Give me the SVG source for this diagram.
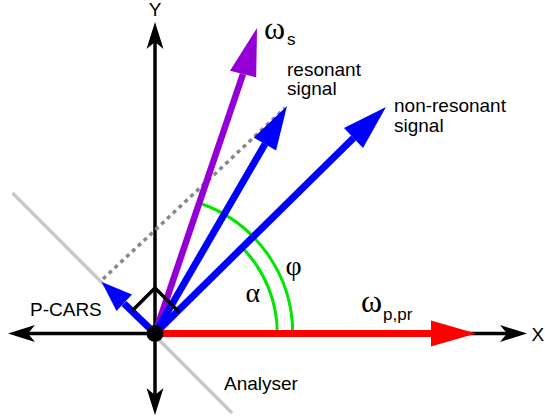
<svg xmlns="http://www.w3.org/2000/svg" width="545" height="418" viewBox="0 0 545 418">
<style>
.ax{stroke:#000;stroke-width:3.5;fill:none}
.ah{fill:#000;stroke:none}
.lbl{font-family:"Liberation Sans",Arial,sans-serif;font-size:19px;fill:#000}
.gr{font-family:"Liberation Serif","Times New Roman",serif;font-size:28px;fill:#000}
.om{font-family:"Liberation Serif","Times New Roman",serif;font-size:32px;fill:#000}
.sub{font-family:"Liberation Sans",Arial,sans-serif;font-size:17px;fill:#000}
.arc{stroke:#00e600;stroke-width:3;fill:none}
.blue{stroke:#0000ff;stroke-width:7;fill:none}
.bh{fill:#0000ff}
</style>
<rect width="545" height="418" fill="#fff"/>
<g id="analyser">
<line x1="12.5" y1="193" x2="232" y2="413" stroke="#c8c8c8" stroke-width="3.5"/>
</g>
<g id="axes">
<line class="ax" x1="20" y1="333.5" x2="518" y2="333.5"/>
<line class="ax" x1="155" y1="32" x2="155" y2="406"/>
<polygon class="ah" points="8,333.5 35,325 28,333.5 35,342"/>
<polygon class="ah" points="527,333.5 500,325 507,333.5 500,342"/>
<polygon class="ah" points="155,22 146.5,49 155,42 163.5,49"/>
<polygon class="ah" points="155,415 146.5,388 155,395 163.5,388"/>
<text class="lbl" x="155" y="15.5" text-anchor="middle">Y</text>
<text class="lbl" x="531.5" y="341">X</text>
</g>
<g id="connectors">
<line x1="103" y1="279" x2="285" y2="108" stroke="#888" stroke-width="3.5" stroke-dasharray="4 4"/>
<path class="arc" d="M277.3,333.5 A122.3,122.3 0 0 0 243,248.5"/>
<path class="arc" d="M292.7,333.5 A137.7,137.7 0 0 0 202.1,204"/>
<line x1="155" y1="333.5" x2="243" y2="74" stroke="#9400d3" stroke-width="6.5"/>
<polygon fill="#9400d3" points="257,28 230,70.7 256.2,77.3"/>
<line class="blue" x1="155" y1="333.5" x2="265" y2="144"/>
<polygon class="bh" points="287,106 253.7,137.5 276.1,150.5"/>
<line class="blue" x1="155" y1="333.5" x2="353.5" y2="138"/>
<polygon class="bh" points="386,107 344,128 363,148"/>
<line class="blue" stroke-width="6" x1="155" y1="333.5" x2="124" y2="303.5"/>
<polygon class="bh" points="101.7,282 116.5,311 132,294.5"/>
<line x1="155" y1="333.5" x2="432" y2="333.5" stroke="#ff0000" stroke-width="7"/>
<polygon fill="#ff0000" points="476,333.5 431,320.5 431,346.5"/>
<polyline class="ax" points="132,311 155,288 179,312"/>
</g>
<g id="origin">
<circle cx="155" cy="333.5" r="8.5" fill="#000"/>
</g>
<g id="labels">
<text class="om" x="264" y="38.5">ω</text><text class="sub" x="287" y="45">s</text>
<text class="lbl" x="287" y="76">resonant</text>
<text class="lbl" x="287" y="95">signal</text>
<text class="lbl" x="394" y="111.5">non-resonant</text>
<text class="lbl" x="394" y="131.5">signal</text>
<text class="lbl" x="30" y="316">P-CARS</text>
<text class="lbl" x="224" y="390">Analyser</text>
<text class="gr" x="245.5" y="301.5">α</text>
<text class="gr" x="285.5" y="274.5">φ</text>
<text class="om" x="361" y="311.5">ω</text><text class="sub" x="383" y="319.5">p,pr</text>
</g>
</svg>
